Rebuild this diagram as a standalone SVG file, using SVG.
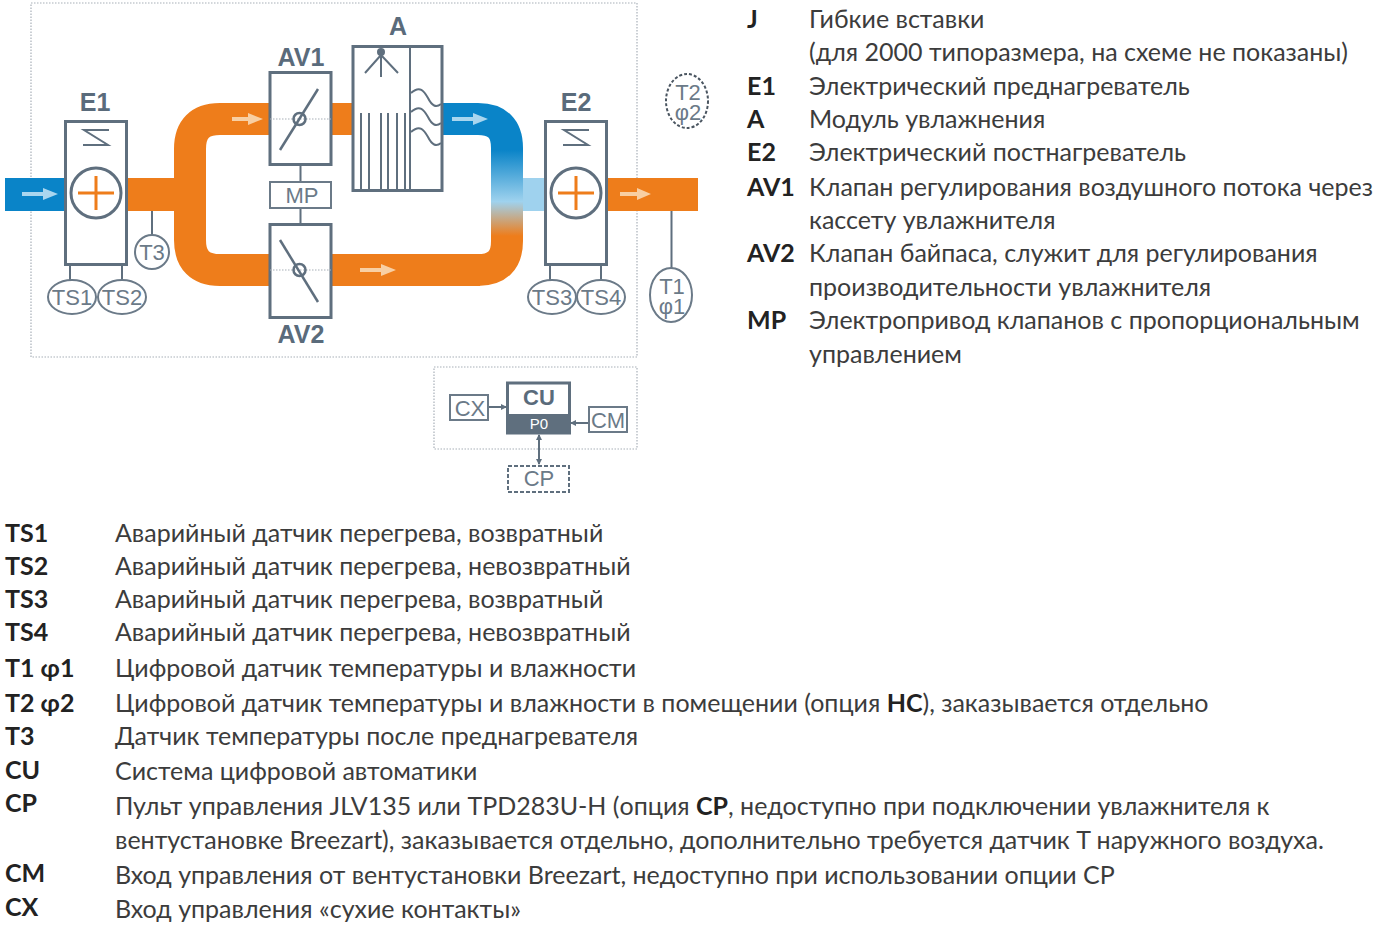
<svg xmlns="http://www.w3.org/2000/svg" width="1400" height="939" viewBox="0 0 1400 939">
<style>
.l{font-family:"Lato","Open Sans","Liberation Sans",sans-serif;font-size:25px;fill:#3c3c3c}
.b{font-weight:700;fill:#222}
.d{font-family:"Liberation Sans",Arial,sans-serif;fill:#6b7a88;font-size:22px;text-anchor:middle}
.h{font-family:"Liberation Sans",Arial,sans-serif;fill:#5a6b7b;font-size:25px;font-weight:700;text-anchor:middle}
.s{fill:none;stroke:#5f6f7e;stroke-width:2}
.w{fill:#fff;stroke:#5f6f7e;stroke-width:3}
.e{fill:#fff;stroke:#6b7a88;stroke-width:2}
.dot{fill:none;stroke:#a8b0b8;stroke-width:1.2;stroke-dasharray:1.5 1.5}
.a{fill:none;stroke-width:5}
</style>
<defs>
<linearGradient id="g" gradientUnits="userSpaceOnUse" x1="0" y1="150" x2="0" y2="236"><stop offset="0" stop-color="#0a84c8"/><stop offset=".6" stop-color="#9fd2ee"/><stop offset="1" stop-color="#ee7d1b"/></linearGradient>
<marker id="m" markerWidth="6" markerHeight="6" refX="5" refY="3" orient="auto-start-reverse" markerUnits="userSpaceOnUse"><path d="M0 0L6 3L0 6z" fill="#5f6f7e"/></marker>
</defs>
<g id="frames"><rect class="dot" x="31" y="3" width="606" height="354"/><rect class="dot" x="434" y="367" width="203" height="82"/></g>
<g id="ducts">
<rect x="5" y="178" width="62" height="33" fill="#0a84c8"/>
<rect x="126" y="178" width="50" height="33" fill="#ee7d1b"/>
<path d="M353 119H220Q190 119 190 149V240Q190 270 220 270H480" fill="none" stroke="#ee7d1b" stroke-width="32"/>
<path d="M442 119H478Q507 119 507 148V241Q507 270 478 270H440" fill="none" stroke="url(#g)" stroke-width="32"/>
<rect x="523" y="178" width="24" height="33" fill="#9fd2ee"/>
<rect x="606" y="178" width="92" height="33" fill="#ee7d1b"/>
</g>
<g id="connectors" stroke-linecap="butt">
<path class="s" d="M70 265V281M122 265V281M152 211V236M300.500 165V182M300.500 208V224M550 265V281M601 265V281M671.500 211V269"/>
<path d="M489 407H506" stroke="#5f6f7e" stroke-width="2" marker-end="url(#m)"/>
<path d="M589 423H571" stroke="#5f6f7e" stroke-width="2" marker-end="url(#m)"/>
<path d="M539 435V464" stroke="#5f6f7e" stroke-width="2" marker-start="url(#m)" marker-end="url(#m)"/>
</g>
<g id="flow-arrows">
<g fill="#a9d6ef"><path d="M22 192H43V188L58 194L43 200V196H22z"/><path d="M452 117H473V113L488 119L473 125V121H452z"/></g>
<g fill="#f8cfa3"><path d="M232 117H248V113L263 119L248 125V121H232z"/><path d="M360 268H381V264L396 270L381 276V272H360z"/><path d="M620 192H637V188L651 194L637 200V196H620z"/></g>
</g>
<g id="E1"><rect class="w" x="65.500" y="121.500" width="61" height="143"/><path class="s" d="M109 130H84L108 145H83"/><circle cx="96" cy="193" r="25" fill="#fff" stroke="#5f6f7e" stroke-width="3"/><path d="M78 193H114M96 176V210" stroke="#ee7d1b" stroke-width="3"/><text class="h" x="95" y="111">E1</text></g>
<g id="E2"><rect class="w" x="545.500" y="121.500" width="61" height="143"/><path class="s" d="M589 130H564L588 145H563"/><circle cx="576" cy="193" r="25" fill="#fff" stroke="#5f6f7e" stroke-width="3"/><path d="M558 193H594M576 176V210" stroke="#ee7d1b" stroke-width="3"/><text class="h" x="576" y="111">E2</text></g>
<g id="AV1"><rect class="w" x="270" y="72.500" width="61" height="92"/><path class="dot" d="M270 119H331"/><circle cx="299.500" cy="119" r="6" fill="none" stroke="#5f6f7e" stroke-width="2.500"/><path d="M280 150L318 89" stroke="#5f6f7e" stroke-width="2.500"/><text class="h" x="301" y="66">AV1</text></g>
<g id="AV2"><rect class="w" x="270" y="224.500" width="61" height="93"/><path class="dot" d="M270 270H331"/><circle cx="299.500" cy="270" r="6" fill="none" stroke="#5f6f7e" stroke-width="2.500"/><path d="M280 240L318 302" stroke="#5f6f7e" stroke-width="2.500"/><text class="h" x="301" y="343">AV2</text></g>
<g id="MP"><rect class="e" x="270" y="182" width="61" height="26"/><text class="d" x="302" y="203">MP</text></g>
<g id="A"><rect class="w" x="353" y="46.500" width="89" height="144"/><path class="s" d="M410 47V190M381 52V77M381 55L365 73M381 55L398 73M369 113V190M381 113V190M388 113V190M397 113V190M405 113V190M361 113V190" stroke-width="2.500"/><circle cx="381" cy="52" r="4" fill="#5f6f7e"/><path class="s" stroke-width="2.500" d="M411 93C420 85 424 91 428 98C432 106 436 108 441 104M411 112C420 104 424 110 428 117C432 125 436 127 441 123M411 132C420 124 424 130 428 137C432 145 436 147 441 143"/><text class="h" x="398" y="35">A</text></g>
<g id="T3"><circle class="e" cx="152" cy="252" r="17"/><text class="d" x="152" y="260">T3</text></g>
<g id="TS1"><ellipse class="e" cx="72" cy="297" rx="24" ry="17"/><text class="d" x="72" y="305">TS1</text></g>
<g id="TS2"><ellipse class="e" cx="122" cy="297" rx="24" ry="17"/><text class="d" x="122" y="305">TS2</text></g>
<g id="TS3"><ellipse class="e" cx="552" cy="297" rx="24" ry="17"/><text class="d" x="552" y="305">TS3</text></g>
<g id="TS4"><ellipse class="e" cx="601" cy="297" rx="24" ry="17"/><text class="d" x="601" y="305">TS4</text></g>
<g id="T1"><ellipse class="e" cx="671" cy="295" rx="21" ry="27"/><text class="d" x="672" y="294">T1</text><text class="d" x="672" y="314">φ1</text></g>
<g id="T2"><ellipse cx="687" cy="101" rx="21" ry="27" fill="#fff" stroke="#4a5560" stroke-width="2" stroke-dasharray="3 2"/><text class="d" x="688" y="100">T2</text><text class="d" x="688" y="120">φ2</text></g>
<g id="CU"><rect x="507.500" y="383" width="62" height="50" fill="#fff" stroke="#5f6f7e" stroke-width="3"/><rect x="507" y="414" width="63" height="20" fill="#5f6f7e"/><text class="h" x="539" y="405" font-size="22" style="font-size:22px">CU</text><text x="539" y="429" text-anchor="middle" font-family="Liberation Sans, sans-serif" font-size="15" fill="#fff">P0</text></g>
<g id="CX"><rect class="e" x="450" y="395" width="38" height="25"/><text class="d" x="470" y="416">CX</text></g>
<g id="CM"><rect class="e" x="589" y="407" width="38" height="25"/><text class="d" x="608" y="428">CM</text></g>
<g id="CP"><rect x="508" y="466" width="61" height="26" fill="#fff" stroke="#5f6f7e" stroke-width="2" stroke-dasharray="4 2"/><text class="d" x="539" y="486">CP</text></g>
<g id="legend-right">
<text class="l b" x="747" y="28">J</text><text class="l" x="809" y="28">Гибкие вставки</text>
<text class="l" x="809" y="61">(для 2000 типоразмера, на схеме не показаны)</text>
<text class="l b" x="747" y="95">E1</text><text class="l" x="809" y="95">Электрический преднагреватель</text>
<text class="l b" x="747" y="128">A</text><text class="l" x="809" y="128">Модуль увлажнения</text>
<text class="l b" x="747" y="161">E2</text><text class="l" x="809" y="161">Электрический постнагреватель</text>
<text class="l b" x="747" y="196">AV1</text><text class="l" x="809" y="196">Клапан регулирования воздушного потока через</text>
<text class="l" x="809" y="229">кассету увлажнителя</text>
<text class="l b" x="747" y="262">AV2</text><text class="l" x="809" y="262">Клапан байпаса, служит для регулирования</text>
<text class="l" x="809" y="296">производительности увлажнителя</text>
<text class="l b" x="747" y="329">MP</text><text class="l" x="809" y="329">Электропривод клапанов с пропорциональным</text>
<text class="l" x="809" y="363">управлением</text>
</g>
<g id="legend-bottom">
<text class="l b" x="5" y="542">TS1</text><text class="l" x="115" y="542">Аварийный датчик перегрева, возвратный</text>
<text class="l b" x="5" y="575">TS2</text><text class="l" x="115" y="575">Аварийный датчик перегрева, невозвратный</text>
<text class="l b" x="5" y="608">TS3</text><text class="l" x="115" y="608">Аварийный датчик перегрева, возвратный</text>
<text class="l b" x="5" y="641">TS4</text><text class="l" x="115" y="641">Аварийный датчик перегрева, невозвратный</text>
<text class="l b" x="5" y="677">T1 φ1</text><text class="l" x="115" y="677">Цифровой датчик температуры и влажности</text>
<text class="l b" x="5" y="712">T2 φ2</text><text class="l" x="115" y="712">Цифровой датчик температуры и влажности в помещении (опция <tspan class="b">НС</tspan>), заказывается отдельно</text>
<text class="l b" x="5" y="745">T3</text><text class="l" x="115" y="745">Датчик температуры после преднагревателя</text>
<text class="l b" x="5" y="779">CU</text><text class="l" x="115" y="780">Система цифровой автоматики</text>
<text class="l b" x="5" y="812">CP</text><text class="l" x="115" y="815">Пульт управления JLV135 или TPD283U-H (опция <tspan class="b">CP</tspan>, недоступно при подключении увлажнителя к</text>
<text class="l" x="115" y="849">вентустановке Breezart), заказывается отдельно, дополнительно требуется датчик T наружного воздуха.</text>
<text class="l b" x="5" y="882">CM</text><text class="l" x="115" y="884">Вход управления от вентустановки Breezart, недоступно при использовании опции CP</text>
<text class="l b" x="5" y="916">CX</text><text class="l" x="115" y="918">Вход управления «сухие контакты»</text>
</g>
</svg>
